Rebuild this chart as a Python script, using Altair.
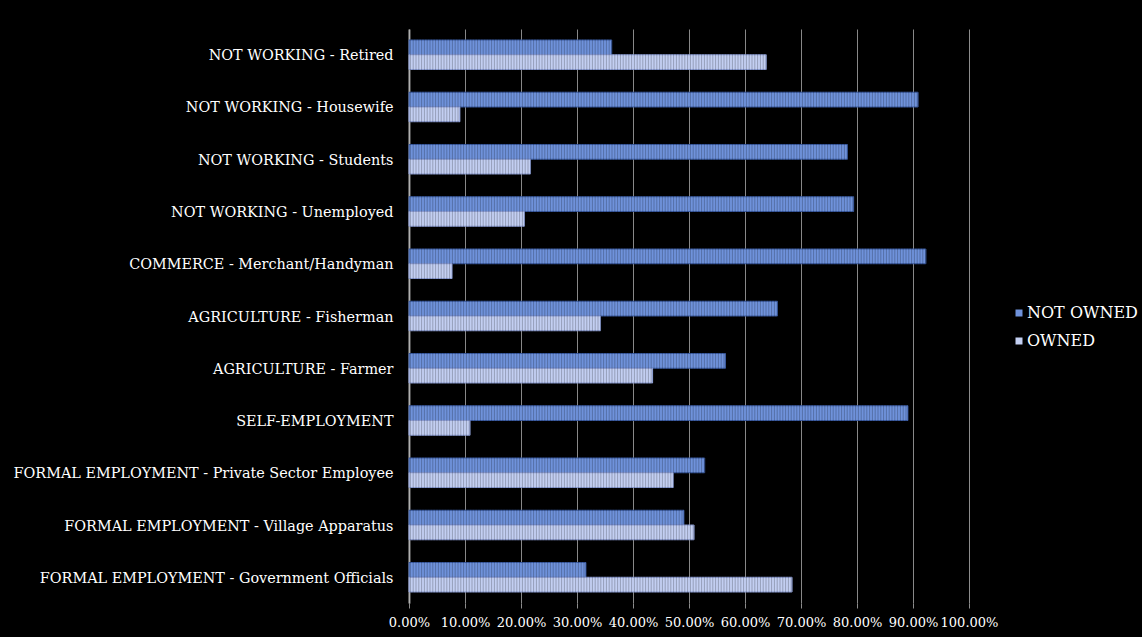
import altair as alt
import pandas as pd

categories = [
    "NOT WORKING - Retired",
    "NOT WORKING - Housewife",
    "NOT WORKING - Students",
    "NOT WORKING - Unemployed",
    "COMMERCE - Merchant/Handyman",
    "AGRICULTURE - Fisherman",
    "AGRICULTURE - Farmer",
    "SELF-EMPLOYMENT",
    "FORMAL EMPLOYMENT - Private Sector Employee",
    "FORMAL EMPLOYMENT - Village Apparatus",
    "FORMAL EMPLOYMENT - Government Officials",
]
not_owned = [0.362, 0.909, 0.783, 0.794, 0.923, 0.658, 0.565, 0.891, 0.528, 0.491, 0.316]
owned = [0.638, 0.091, 0.217, 0.206, 0.077, 0.342, 0.435, 0.109, 0.472, 0.509, 0.684]
series = ["NOT OWNED", "OWNED"]
x_ticks = [0.0, 0.1, 0.2, 0.3, 0.4, 0.5, 0.6, 0.7, 0.8, 0.9, 1.0]

rows = []
for c, a, b in zip(categories, not_owned, owned):
    rows.append({"category": c, "status": series[0], "share": a})
    rows.append({"category": c, "status": series[1], "share": b})
df = pd.DataFrame(rows)

FONT = "DejaVu Serif"
x_scale = alt.Scale(domain=[0, 1], nice=False, zero=True)

bars = alt.Chart(df).mark_bar(strokeWidth=1).encode(
    x=alt.X(
        "share:Q",
        scale=x_scale,
        axis=alt.Axis(
            values=x_ticks, format=".2%", title=None, grid=True,
            gridColor="#8c8c8c", gridWidth=1, domain=False,
            tickColor="#8c8c8c", tickSize=5, labelColor="white",
            labelFont=FONT, labelFontSize=13, labelPadding=8,
            labelOverlap=False, labelFlush=False,
        ),
    ),
    y=alt.Y(
        "category:N", sort=categories,
        scale=alt.Scale(paddingInner=0.435, paddingOuter=0.21),
        axis=alt.Axis(
            title=None, ticks=False, domainColor="#b4b4b4", domainWidth=2,
            labelColor="white", labelFont=FONT, labelFontSize=14.4,
            labelPadding=16, labelLimit=0, grid=False, labelOffset=1.5,
        ),
    ),
    yOffset=alt.YOffset("status:N", sort=series,
                        scale=alt.Scale(paddingInner=0, paddingOuter=0)),
    color=alt.Color(
        "status:N", sort=series,
        scale=alt.Scale(domain=series, range=["#6f92db", "#c3cff2"]),
        legend=alt.Legend(
            title=None, orient="none", legendX=602, legendY=276,
            symbolType="square", symbolSize=49, symbolStrokeWidth=0,
            labelFont=FONT, labelFontSize=16, labelColor="white",
            labelOffset=0, rowPadding=12, padding=0,
        ),
    ),
    stroke=alt.Stroke(
        "status:N", sort=series,
        scale=alt.Scale(domain=series, range=["#3e5fa6", "#8e9fd6"]),
        legend=None,
    ),
)

stripes = alt.Chart(alt.sequence(0.0025, 0.93, 0.005, as_="s")).mark_rule(
    color="black", opacity=0.24, strokeWidth=1
).encode(x=alt.X("s:Q", scale=x_scale))

chart = alt.layer(bars, stripes).properties(
    width=560, height=574,
    padding={"left": 409, "top": 29, "right": 173, "bottom": 34},
    autosize=alt.AutoSizeParams(type="none"),
    background="black",
).configure_view(stroke=None)

chart.save("out.html", embed_options={"renderer": "svg", "actions": False})
